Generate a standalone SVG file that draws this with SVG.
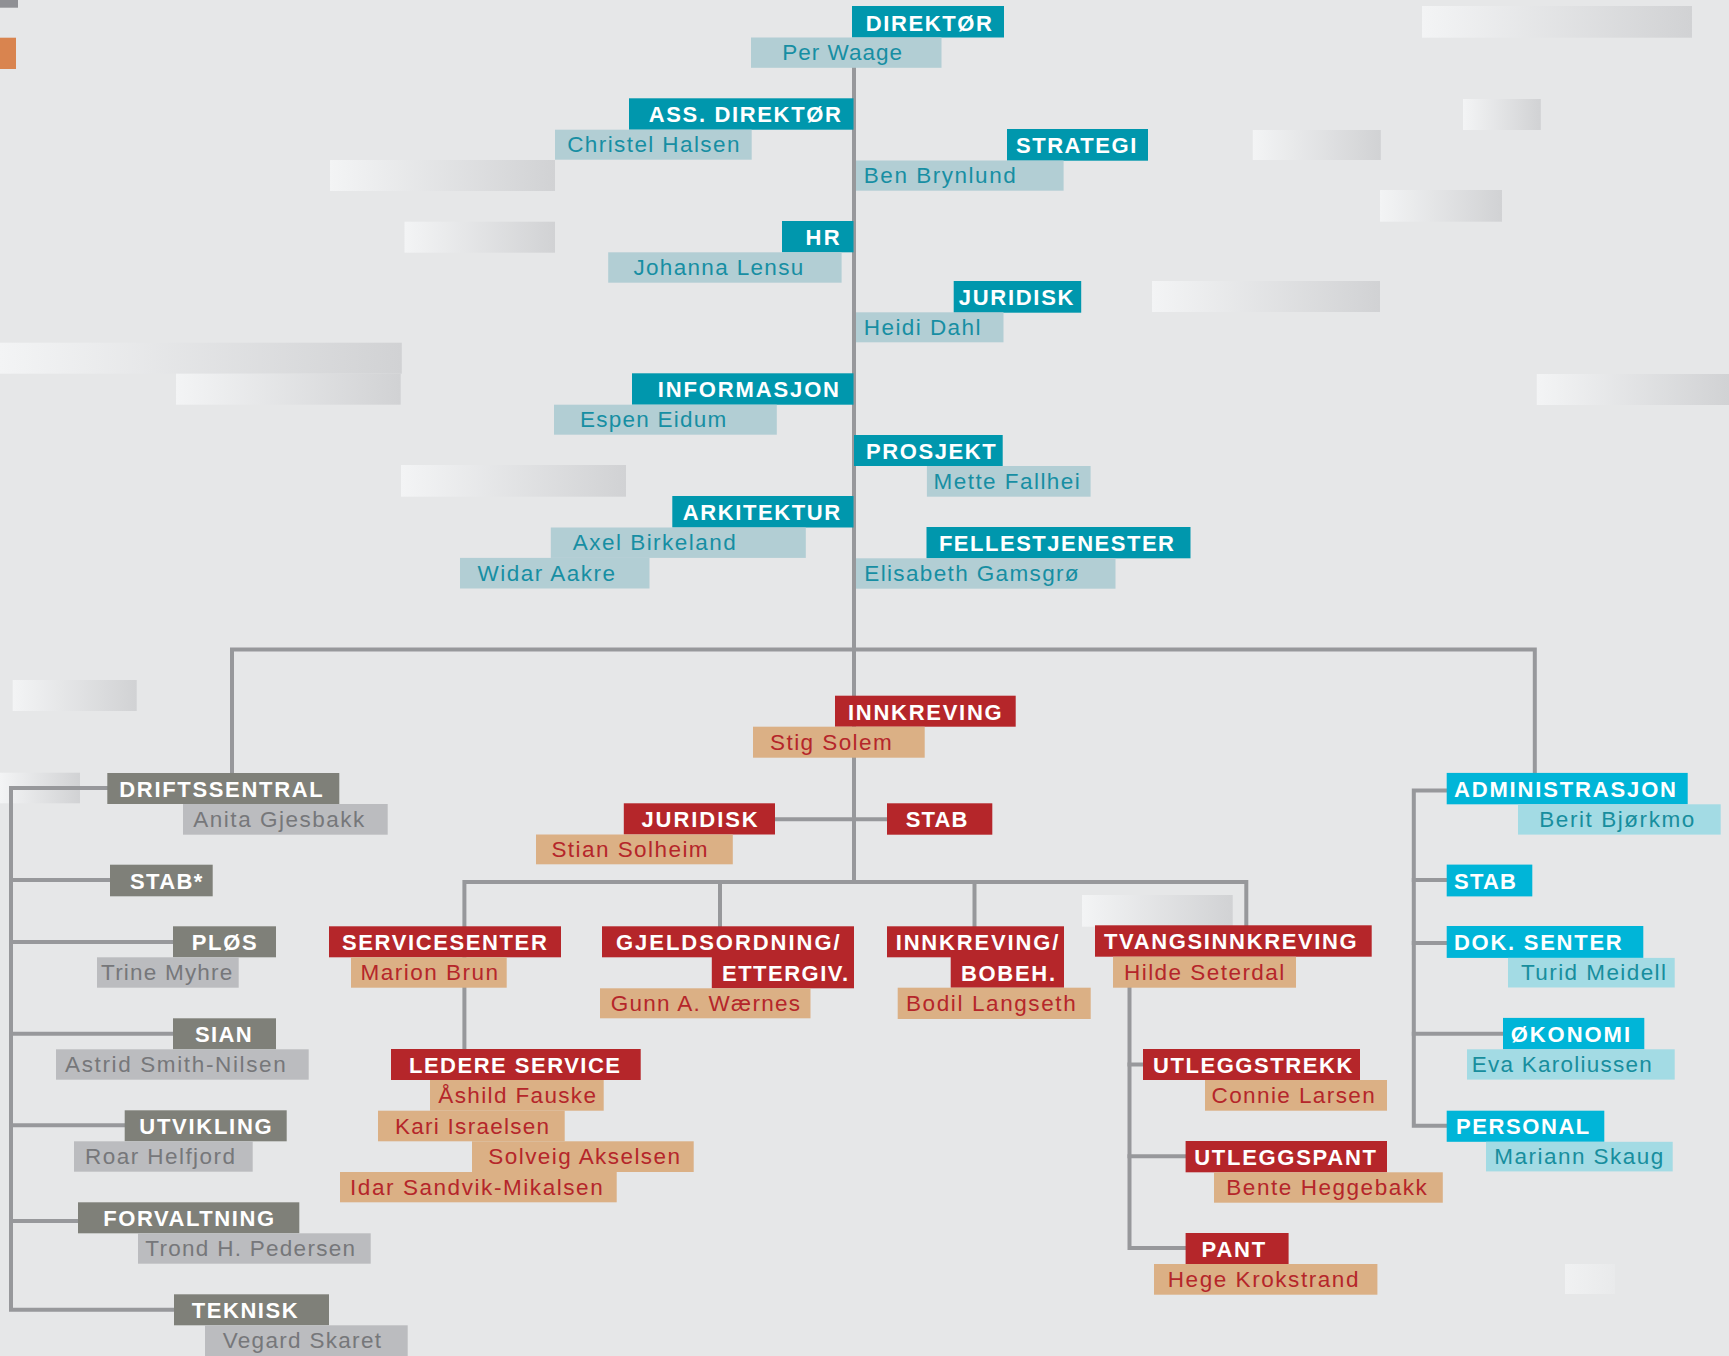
<svg xmlns="http://www.w3.org/2000/svg" width="1729" height="1356" viewBox="0 0 1729 1356">
<defs>
<linearGradient id="fade" x1="0" y1="0" x2="1" y2="0">
<stop offset="0" stop-color="#f3f4f5"/>
<stop offset="1" stop-color="#d1d2d4"/>
</linearGradient>
<linearGradient id="fade2" x1="0" y1="0" x2="1" y2="0">
<stop offset="0" stop-color="#f0f1f2"/>
<stop offset="1" stop-color="#e9eaeb"/>
</linearGradient>
<style>
text{font-family:"Liberation Sans",Arial,Helvetica,sans-serif}
.h{font-weight:bold;font-size:22px;fill:#ffffff}
.n{font-size:22.5px}
.tH{fill:#0097ad}.tB{fill:#b2ced4}.tT{fill:#178ea3}
.rH{fill:#b5262a}.rB{fill:#dbb085}.rT{fill:#b5262a}
.gH{fill:#7f8079}.gB{fill:#bbbcbf}.gT{fill:#76777a}
.cH{fill:#00b5d8}.cB{fill:#a3dbe4}.cT{fill:#178e9e}
.fd{fill:url(#fade)}
.ln{fill:none;stroke:#97989b;stroke-width:4;stroke-linejoin:miter;stroke-linecap:square}
</style>
</defs>
<rect x="0" y="0" width="1729" height="1356" fill="#e6e7e8"/>
<g id="decor">
<rect x="0" y="0" width="18" height="7.7" fill="#8f9094"/>
<rect x="0" y="37.7" width="16" height="31.3" fill="#d9844f"/>
<rect class="fd" x="330" y="160" width="225" height="31"/>
<rect class="fd" x="404.5" y="221.7" width="150.5" height="31"/>
<rect class="fd" x="0" y="342.7" width="401.8" height="31"/>
<rect class="fd" x="176" y="373.7" width="224.7" height="31"/>
<rect class="fd" x="401" y="465" width="225" height="31.7"/>
<rect class="fd" x="1422" y="6" width="270" height="31.7"/>
<rect class="fd" x="1463" y="99" width="77.8" height="31"/>
<rect class="fd" x="1252.8" y="130" width="128" height="30"/>
<rect class="fd" x="1380" y="190" width="122" height="31.7"/>
<rect class="fd" x="1152" y="281" width="228" height="31"/>
<rect class="fd" x="1536.8" y="374" width="192.2" height="31"/>
<rect class="fd" x="12.7" y="680" width="124" height="31"/>
<rect class="fd" x="0" y="772.7" width="80" height="30.6"/>
<rect class="fd" x="1082" y="895" width="150.7" height="31.7"/>
<rect x="1565" y="1264" width="50" height="30" fill="url(#fade2)"/>
</g>
<g id="connectors">
<polyline class="ln" points="854,68 854,882"/>
<polyline class="ln" points="232,773 232,649.5 1534.8,649.5 1534.8,773"/>
<polyline class="ln" points="775,819.3 887,819.3"/>
<polyline class="ln" points="464.4,1049 464.4,882 1246.3,882 1246.3,925"/>
<polyline class="ln" points="720,882 720,926"/>
<polyline class="ln" points="974.5,882 974.5,926"/>
<polyline class="ln" points="1129.5,987 1129.5,1248 1185.6,1248"/>
<polyline class="ln" points="1129.5,1064.5 1143,1064.5"/>
<polyline class="ln" points="1129.5,1156.3 1185.6,1156.3"/>
<polyline class="ln" points="107.3,788 11,788 11,1309.7 174,1309.7"/>
<polyline class="ln" points="11,880 110,880"/>
<polyline class="ln" points="11,942 173,942"/>
<polyline class="ln" points="11,1033.7 173,1033.7"/>
<polyline class="ln" points="11,1125.3 124.7,1125.3"/>
<polyline class="ln" points="11,1221 78,1221"/>
<polyline class="ln" points="1446.7,790.5 1413.8,790.5 1413.8,1125.7 1446.7,1125.7"/>
<polyline class="ln" points="1413.8,880 1446.7,880"/>
<polyline class="ln" points="1413.8,943 1446.7,943"/>
<polyline class="ln" points="1413.8,1033.7 1503,1033.7"/>
</g>
<g id="n-direktor">
<rect class="tH" x="852" y="6" width="152" height="31.5"/>
<text class="h" x="865.7" y="31" textLength="126.3" lengthAdjust="spacing">DIREKTØR</text>
<rect class="tB" x="751" y="37.5" width="190.5" height="30.3"/>
<text class="n tT" x="782.3" y="60" textLength="119.7" lengthAdjust="spacing">Per Waage</text>
</g>
<g id="n-ass-direktor">
<rect class="tH" x="629" y="98.3" width="224.5" height="31.4"/>
<text class="h" x="648.7" y="122" textLength="192.2" lengthAdjust="spacing">ASS. DIREKTØR</text>
<rect class="tB" x="555" y="129.7" width="196.7" height="30"/>
<text class="n tT" x="567.2" y="152.4" textLength="172.2" lengthAdjust="spacing">Christel Halsen</text>
</g>
<g id="n-strategi">
<rect class="tH" x="1007" y="129" width="141" height="31.7"/>
<text class="h" x="1016" y="153" textLength="120.3" lengthAdjust="spacing">STRATEGI</text>
<rect class="tB" x="856" y="160.5" width="207.6" height="30.2"/>
<text class="n tT" x="863.8" y="182.7" textLength="151.9" lengthAdjust="spacing">Ben Brynlund</text>
</g>
<g id="n-hr">
<rect class="tH" x="782" y="221" width="71.5" height="31.3"/>
<text class="h" x="805.6" y="245" textLength="34.1" lengthAdjust="spacing">HR</text>
<rect class="tB" x="608.2" y="252.3" width="233.4" height="30.4"/>
<text class="n tT" x="633.4" y="275" textLength="169.9" lengthAdjust="spacing">Johanna Lensu</text>
</g>
<g id="n-juridisk-top">
<rect class="tH" x="953.7" y="281" width="127.5" height="31.7"/>
<text class="h" x="958.7" y="305" textLength="114.8" lengthAdjust="spacing">JURIDISK</text>
<rect class="tB" x="856" y="312.3" width="147.5" height="30"/>
<text class="n tT" x="863.8" y="335" textLength="116.7" lengthAdjust="spacing">Heidi Dahl</text>
</g>
<g id="n-informasjon">
<rect class="tH" x="632" y="373.3" width="221.5" height="31.4"/>
<text class="h" x="657.8" y="397" textLength="181.2" lengthAdjust="spacing">INFORMASJON</text>
<rect class="tB" x="554" y="404.7" width="222.8" height="30"/>
<text class="n tT" x="579.9" y="427.3" textLength="146.3" lengthAdjust="spacing">Espen Eidum</text>
</g>
<g id="n-prosjekt">
<rect class="tH" x="854" y="435" width="148.7" height="31"/>
<text class="h" x="866" y="459" textLength="129.7" lengthAdjust="spacing">PROSJEKT</text>
<rect class="tB" x="926.9" y="466" width="163.7" height="30.7"/>
<text class="n tT" x="933.5" y="488.7" textLength="146.3" lengthAdjust="spacing">Mette Fallhei</text>
</g>
<g id="n-arkitektur">
<rect class="tH" x="672.3" y="496" width="181.2" height="31.5"/>
<text class="h" x="682.7" y="520" textLength="157.5" lengthAdjust="spacing">ARKITEKTUR</text>
<rect class="tB" x="550.8" y="527.5" width="255" height="30.4"/>
<text class="n tT" x="572.8" y="550" textLength="162.9" lengthAdjust="spacing">Axel Birkeland</text>
<rect class="tB" x="460" y="557.9" width="189.5" height="30.6"/>
<text class="n tT" x="477.6" y="581" textLength="137.4" lengthAdjust="spacing">Widar Aakre</text>
</g>
<g id="n-fellestjenester">
<rect class="tH" x="926.5" y="527" width="264" height="31.3"/>
<text class="h" x="938.9" y="551" textLength="235.1" lengthAdjust="spacing">FELLESTJENESTER</text>
<rect class="tB" x="856" y="558.3" width="259.5" height="30.4"/>
<text class="n tT" x="864.3" y="581" textLength="214.3" lengthAdjust="spacing">Elisabeth Gamsgrø</text>
</g>
<g id="n-innkreving">
<rect class="rH" x="835" y="695.7" width="180.7" height="31"/>
<text class="h" x="848" y="719.5" textLength="153.7" lengthAdjust="spacing">INNKREVING</text>
<rect class="rB" x="753" y="726.7" width="171.7" height="31"/>
<text class="n rT" x="770" y="750" textLength="121.7" lengthAdjust="spacing">Stig Solem</text>
</g>
<g id="n-juridisk-red">
<rect class="rH" x="623.8" y="803.3" width="151.2" height="31.2"/>
<text class="h" x="641.4" y="827" textLength="116.3" lengthAdjust="spacing">JURIDISK</text>
<rect class="rB" x="536" y="834.5" width="196.8" height="29.8"/>
<text class="n rT" x="551.4" y="857" textLength="156.2" lengthAdjust="spacing">Stian Solheim</text>
</g>
<g id="n-stab-red">
<rect class="rH" x="887" y="803.3" width="105.3" height="31.4"/>
<text class="h" x="905.7" y="827" textLength="61.6" lengthAdjust="spacing">STAB</text>
</g>
<g id="n-servicesenter">
<rect class="rH" x="329" y="926.3" width="232" height="31"/>
<text class="h" x="342" y="950" textLength="204.8" lengthAdjust="spacing">SERVICESENTER</text>
<rect class="rB" x="351" y="957.3" width="155.7" height="30.4"/>
<text class="n rT" x="360.5" y="980" textLength="137.5" lengthAdjust="spacing">Marion Brun</text>
</g>
<g id="n-gjeldsordning">
<rect class="rH" x="602" y="926.3" width="252" height="31"/>
<rect class="rH" x="711.8" y="957" width="142.2" height="31.3"/>
<text class="h" x="616" y="950" textLength="223.6" lengthAdjust="spacing">GJELDSORDNING/</text>
<text class="h" x="722" y="981" textLength="126" lengthAdjust="spacing">ETTERGIV.</text>
<rect class="rB" x="600" y="988.3" width="210.5" height="30"/>
<text class="n rT" x="610.7" y="1011" textLength="189.3" lengthAdjust="spacing">Gunn A. Wærnes</text>
</g>
<g id="n-innkreving-bobeh">
<rect class="rH" x="887" y="926.3" width="177" height="31"/>
<rect class="rH" x="950.7" y="957" width="113.3" height="30.7"/>
<text class="h" x="895.7" y="950" textLength="162.6" lengthAdjust="spacing">INNKREVING/</text>
<text class="h" x="961" y="981" textLength="94" lengthAdjust="spacing">BOBEH.</text>
<rect class="rB" x="897.7" y="987.7" width="193" height="31.3"/>
<text class="n rT" x="906" y="1011" textLength="169.7" lengthAdjust="spacing">Bodil Langseth</text>
</g>
<g id="n-tvangsinnkreving">
<rect class="rH" x="1095" y="925.3" width="276.7" height="31.4"/>
<text class="h" x="1104" y="949" textLength="252.7" lengthAdjust="spacing">TVANGSINNKREVING</text>
<rect class="rB" x="1113" y="956.7" width="183" height="31"/>
<text class="n rT" x="1124" y="980" textLength="160.3" lengthAdjust="spacing">Hilde Seterdal</text>
</g>
<g id="n-ledere-service">
<rect class="rH" x="391" y="1049" width="249.7" height="31"/>
<text class="h" x="409" y="1073" textLength="211" lengthAdjust="spacing">LEDERE SERVICE</text>
<rect class="rB" x="430" y="1080" width="173.7" height="30.7"/>
<text class="n rT" x="438.3" y="1103" textLength="157.7" lengthAdjust="spacing">Åshild Fauske</text>
<rect class="rB" x="378" y="1110.7" width="186.7" height="30.6"/>
<text class="n rT" x="395" y="1133.5" textLength="154" lengthAdjust="spacing">Kari Israelsen</text>
<rect class="rB" x="472" y="1141.3" width="221.7" height="30.7"/>
<text class="n rT" x="488.3" y="1164" textLength="191.7" lengthAdjust="spacing">Solveig Akselsen</text>
<rect class="rB" x="340" y="1172" width="276.7" height="30.3"/>
<text class="n rT" x="350" y="1194.7" textLength="252.7" lengthAdjust="spacing">Idar Sandvik-Mikalsen</text>
</g>
<g id="n-utleggstrekk">
<rect class="rH" x="1143" y="1049" width="217" height="31"/>
<text class="h" x="1153" y="1073" textLength="199.3" lengthAdjust="spacing">UTLEGGSTREKK</text>
<rect class="rB" x="1205" y="1080" width="182" height="30.7"/>
<text class="n rT" x="1211.5" y="1103" textLength="163.3" lengthAdjust="spacing">Connie Larsen</text>
</g>
<g id="n-utleggspant">
<rect class="rH" x="1185.6" y="1141" width="201.4" height="31.3"/>
<text class="h" x="1194.2" y="1165" textLength="181.8" lengthAdjust="spacing">UTLEGGSPANT</text>
<rect class="rB" x="1214" y="1172.3" width="228.8" height="30.4"/>
<text class="n rT" x="1226.3" y="1195" textLength="200.5" lengthAdjust="spacing">Bente Heggebakk</text>
</g>
<g id="n-pant">
<rect class="rH" x="1185.6" y="1233" width="103" height="31"/>
<text class="h" x="1201.6" y="1257" textLength="63.6" lengthAdjust="spacing">PANT</text>
<rect class="rB" x="1154" y="1264" width="223.4" height="30.7"/>
<text class="n rT" x="1167.8" y="1287" textLength="190.6" lengthAdjust="spacing">Hege Krokstrand</text>
</g>
<g id="n-driftssentral">
<rect class="gH" x="107.3" y="773" width="232" height="31"/>
<text class="h" x="119.3" y="796.5" textLength="203.4" lengthAdjust="spacing">DRIFTSSENTRAL</text>
<rect class="gB" x="183" y="804" width="204.7" height="30.7"/>
<text class="n gT" x="193.3" y="827" textLength="171" lengthAdjust="spacing">Anita Gjesbakk</text>
</g>
<g id="n-stab-gray">
<rect class="gH" x="110" y="864.7" width="102.7" height="31.6"/>
<text class="h" x="130" y="888.5" textLength="72.3" lengthAdjust="spacing">STAB*</text>
</g>
<g id="n-plos">
<rect class="gH" x="173" y="926.3" width="103" height="31"/>
<text class="h" x="191.7" y="950" textLength="65" lengthAdjust="spacing">PLØS</text>
<rect class="gB" x="97" y="957.3" width="141.7" height="30.4"/>
<text class="n gT" x="101" y="980" textLength="131.3" lengthAdjust="spacing">Trine Myhre</text>
</g>
<g id="n-sian">
<rect class="gH" x="173" y="1018.3" width="103" height="31"/>
<text class="h" x="195" y="1042" textLength="56.7" lengthAdjust="spacing">SIAN</text>
<rect class="gB" x="56" y="1049.3" width="252.7" height="30.4"/>
<text class="n gT" x="65" y="1072" textLength="220.7" lengthAdjust="spacing">Astrid Smith-Nilsen</text>
</g>
<g id="n-utvikling">
<rect class="gH" x="124.7" y="1110.3" width="162" height="31"/>
<text class="h" x="139.3" y="1134" textLength="132.4" lengthAdjust="spacing">UTVIKLING</text>
<rect class="gB" x="74" y="1141.3" width="178.7" height="30.4"/>
<text class="n gT" x="85" y="1164" textLength="150" lengthAdjust="spacing">Roar Helfjord</text>
</g>
<g id="n-forvaltning">
<rect class="gH" x="78" y="1202.3" width="221.3" height="31"/>
<text class="h" x="103.3" y="1226" textLength="170.7" lengthAdjust="spacing">FORVALTNING</text>
<rect class="gB" x="138" y="1233.3" width="232.7" height="30.4"/>
<text class="n gT" x="145.3" y="1256" textLength="209.7" lengthAdjust="spacing">Trond H. Pedersen</text>
</g>
<g id="n-teknisk">
<rect class="gH" x="174" y="1294.3" width="155" height="31"/>
<text class="h" x="191.7" y="1318" textLength="106" lengthAdjust="spacing">TEKNISK</text>
<rect class="gB" x="205" y="1325.3" width="202.7" height="30.7"/>
<text class="n gT" x="222.7" y="1348" textLength="158.3" lengthAdjust="spacing">Vegard Skaret</text>
</g>
<g id="n-administrasjon">
<rect class="cH" x="1446.7" y="772.9" width="241" height="31.4"/>
<text class="h" x="1454" y="797" textLength="222" lengthAdjust="spacing">ADMINISTRASJON</text>
<rect class="cB" x="1518" y="804.3" width="202.7" height="30.3"/>
<text class="n cT" x="1539.3" y="827" textLength="155" lengthAdjust="spacing">Berit Bjørkmo</text>
</g>
<g id="n-stab-cyan">
<rect class="cH" x="1446.7" y="864.6" width="85.6" height="31.8"/>
<text class="h" x="1454" y="888.5" textLength="62" lengthAdjust="spacing">STAB</text>
</g>
<g id="n-dok-senter">
<rect class="cH" x="1446.7" y="926" width="196.6" height="31.9"/>
<text class="h" x="1454" y="950" textLength="167.7" lengthAdjust="spacing">DOK. SENTER</text>
<rect class="cB" x="1508" y="957.9" width="166.7" height="29.6"/>
<text class="n cT" x="1521" y="980" textLength="145" lengthAdjust="spacing">Turid Meidell</text>
</g>
<g id="n-okonomi">
<rect class="cH" x="1503" y="1017.9" width="141.3" height="31.4"/>
<text class="h" x="1510.7" y="1042" textLength="119.3" lengthAdjust="spacing">ØKONOMI</text>
<rect class="cB" x="1467" y="1049.3" width="207.7" height="30.3"/>
<text class="n cT" x="1471.7" y="1072" textLength="180" lengthAdjust="spacing">Eva Karoliussen</text>
</g>
<g id="n-personal">
<rect class="cH" x="1446.7" y="1110.7" width="157.6" height="31.1"/>
<text class="h" x="1456" y="1134" textLength="133.3" lengthAdjust="spacing">PERSONAL</text>
<rect class="cB" x="1486" y="1141.8" width="186.7" height="29.6"/>
<text class="n cT" x="1494.3" y="1164" textLength="169" lengthAdjust="spacing">Mariann Skaug</text>
</g>
</svg>
